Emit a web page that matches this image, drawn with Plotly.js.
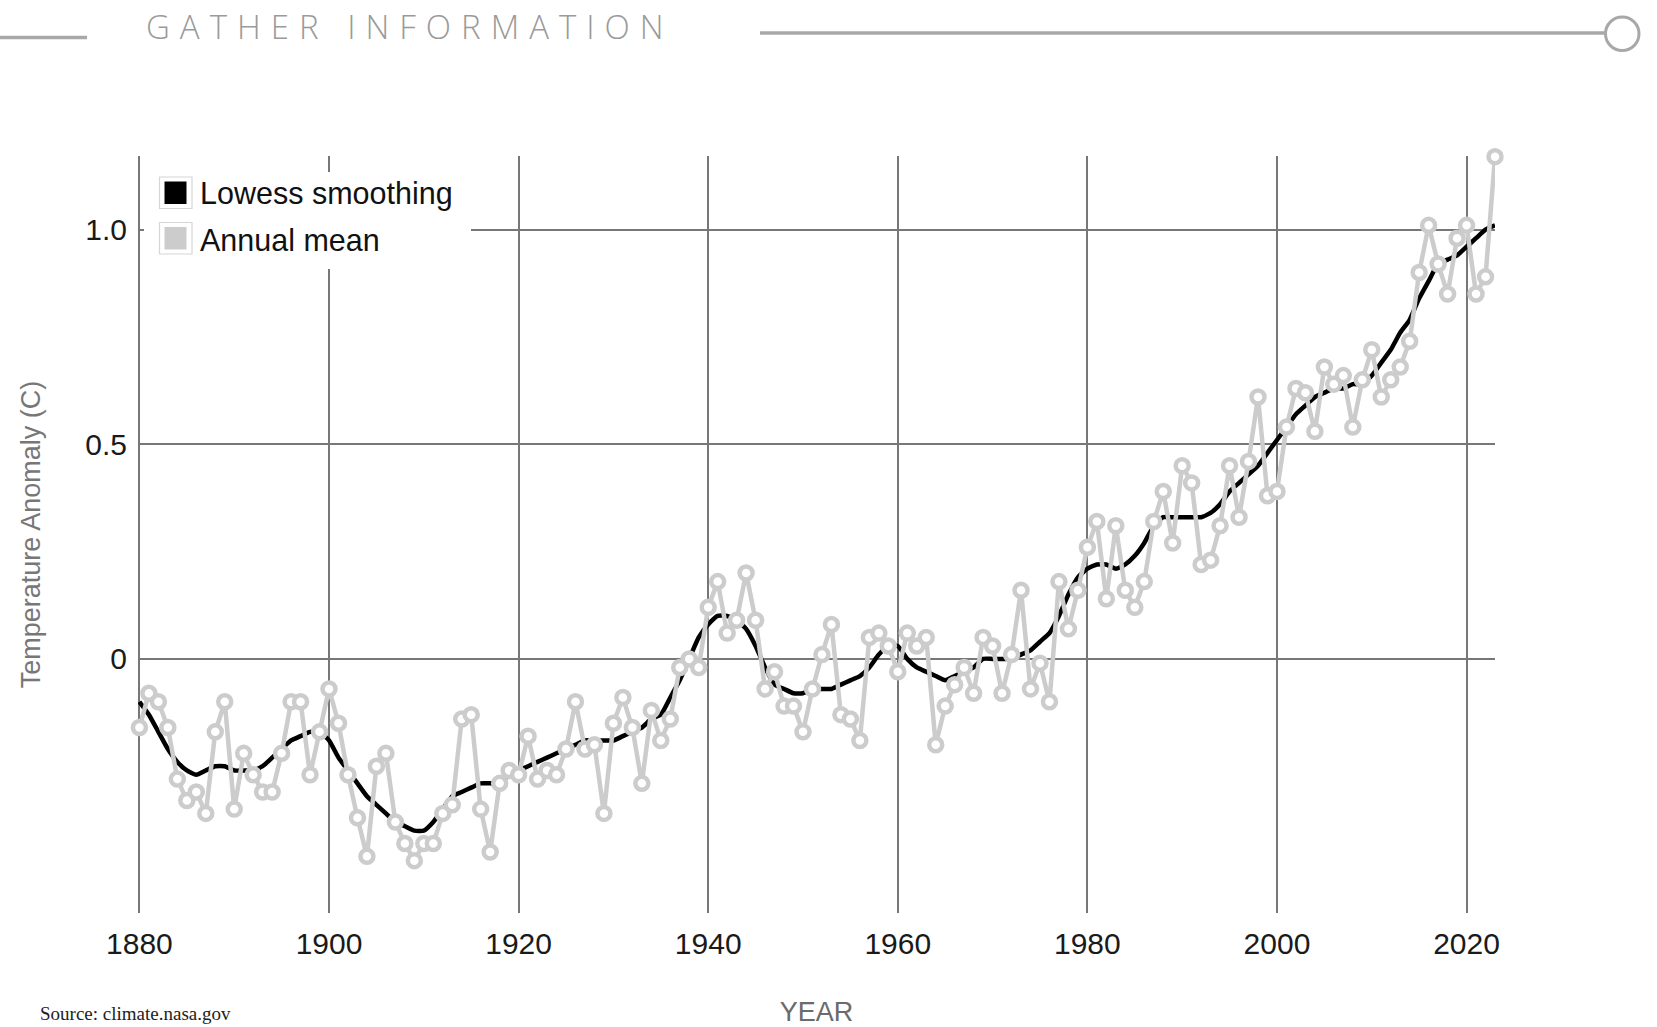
<!DOCTYPE html>
<html>
<head>
<meta charset="utf-8">
<script src="https://cdn.plot.ly/plotly-3.0.1.min.js"></script>
<style>
html, body { margin: 0; padding: 0; background: #ffffff; overflow: hidden; }
#chart { width: 1657px; height: 1027px; }
.annotation[data-index="0"] .annotation-text { letter-spacing: 10px; }
</style>
</head>
<body>
<div id="chart"></div>
<script>
// ---------------- DATA ----------------
const years = [
  1880,1881,1882,1883,1884,1885,1886,1887,1888,1889,
  1890,1891,1892,1893,1894,1895,1896,1897,1898,1899,
  1900,1901,1902,1903,1904,1905,1906,1907,1908,1909,
  1910,1911,1912,1913,1914,1915,1916,1917,1918,1919,
  1920,1921,1922,1923,1924,1925,1926,1927,1928,1929,
  1930,1931,1932,1933,1934,1935,1936,1937,1938,1939,
  1940,1941,1942,1943,1944,1945,1946,1947,1948,1949,
  1950,1951,1952,1953,1954,1955,1956,1957,1958,1959,
  1960,1961,1962,1963,1964,1965,1966,1967,1968,1969,
  1970,1971,1972,1973,1974,1975,1976,1977,1978,1979,
  1980,1981,1982,1983,1984,1985,1986,1987,1988,1989,
  1990,1991,1992,1993,1994,1995,1996,1997,1998,1999,
  2000,2001,2002,2003,2004,2005,2006,2007,2008,2009,
  2010,2011,2012,2013,2014,2015,2016,2017,2018,2019,
  2020,2021,2022,2023
];

const annualMean = [
  -0.16,-0.08,-0.10,-0.16,-0.28,-0.33,-0.31,-0.36,-0.17,-0.10,
  -0.35,-0.22,-0.27,-0.31,-0.31,-0.22,-0.10,-0.10,-0.27,-0.17,
  -0.07,-0.15,-0.27,-0.37,-0.46,-0.25,-0.22,-0.38,-0.43,-0.47,
  -0.43,-0.43,-0.36,-0.34,-0.14,-0.13,-0.35,-0.45,-0.29,-0.26,
  -0.27,-0.18,-0.28,-0.26,-0.27,-0.21,-0.10,-0.21,-0.20,-0.36,
  -0.15,-0.09,-0.16,-0.29,-0.12,-0.19,-0.14,-0.02,0.00,-0.02,
  0.12,0.18,0.06,0.09,0.20,0.09,-0.07,-0.03,-0.11,-0.11,
  -0.17,-0.07,0.01,0.08,-0.13,-0.14,-0.19,0.05,0.06,0.03,
  -0.03,0.06,0.03,0.05,-0.20,-0.11,-0.06,-0.02,-0.08,0.05,
  0.03,-0.08,0.01,0.16,-0.07,-0.01,-0.10,0.18,0.07,0.16,
  0.26,0.32,0.14,0.31,0.16,0.12,0.18,0.32,0.39,0.27,
  0.45,0.41,0.22,0.23,0.31,0.45,0.33,0.46,0.61,0.38,
  0.39,0.54,0.63,0.62,0.53,0.68,0.64,0.66,0.54,0.65,
  0.72,0.61,0.65,0.68,0.74,0.90,1.01,0.92,0.85,0.98,
  1.01,0.85,0.89,1.17
];

const lowess = [
  -0.10,-0.13,-0.17,-0.21,-0.24,-0.26,-0.27,-0.26,-0.25,-0.25,
  -0.26,-0.26,-0.26,-0.25,-0.23,-0.21,-0.19,-0.18,-0.17,-0.17,
  -0.19,-0.23,-0.26,-0.29,-0.32,-0.34,-0.36,-0.38,-0.39,-0.40,
  -0.40,-0.38,-0.35,-0.32,-0.31,-0.30,-0.29,-0.29,-0.29,-0.27,
  -0.26,-0.25,-0.24,-0.23,-0.22,-0.21,-0.20,-0.19,-0.19,-0.19,
  -0.19,-0.18,-0.17,-0.16,-0.14,-0.13,-0.09,-0.05,0.00,0.05,
  0.08,0.10,0.10,0.09,0.07,0.03,-0.02,-0.06,-0.07,-0.08,
  -0.08,-0.07,-0.07,-0.07,-0.06,-0.05,-0.04,-0.02,0.01,0.03,
  0.03,0.00,-0.02,-0.03,-0.04,-0.05,-0.04,-0.03,-0.02,0.00,
  0.00,0.00,0.00,0.01,0.02,0.04,0.06,0.10,0.15,0.19,
  0.21,0.22,0.22,0.21,0.22,0.24,0.27,0.31,0.33,0.33,
  0.33,0.33,0.33,0.34,0.36,0.39,0.41,0.43,0.45,0.48,
  0.51,0.54,0.57,0.59,0.61,0.62,0.63,0.63,0.64,0.64,
  0.66,0.69,0.72,0.76,0.79,0.84,0.88,0.92,0.93,0.94,
  0.96,0.98,1.00,1.01
];

const xTickVals = [1880, 1900, 1920, 1940, 1960, 1980, 2000, 2020];
const yTickVals = [0, 0.5, 1.0];
const yTickText = ['0', '0.5', '1.0'];
const seriesNames = ['Lowess smoothing', 'Annual mean'];
const headerText = 'GATHER INFORMATION';
const sourceText = 'Source: climate.nasa.gov';
const xTitleText = 'YEAR';
const yTitleText = 'Temperature Anomaly (C)';

// ---------------- LAYOUT HELPERS ----------------
const W = 1657, H = 1027;
const M = { l: 138, r: 162, t: 156, b: 114 };
const PW = W - M.l - M.r, PH = H - M.t - M.b;
const px = x => (x - M.l) / PW;
const py = y => (M.t + PH - y) / PH;

const GRID = '#777777';
const DECO = '#a8a8a8';
const SANS = 'Liberation Sans, Arial, Helvetica, sans-serif';

function rect(x0, y0, x1, y1, fill, lineColor, lineWidth, layer) {
  return {
    type: 'rect', xref: 'paper', yref: 'paper', layer: layer || 'above',
    x0: px(x0), x1: px(x1), y0: py(y1), y1: py(y0),
    fillcolor: fill, line: { color: lineColor || fill, width: lineWidth || 0 }
  };
}
function hline(x0, x1, y, color, width) {
  return {
    type: 'line', xref: 'paper', yref: 'paper', layer: 'above',
    x0: px(x0), x1: px(x1), y0: py(y), y1: py(y),
    line: { color: color, width: width }
  };
}

const shapes = [
  // header decoration
  hline(0, 87, 37.5, DECO, 3.3),
  hline(760, 1605, 33, DECO, 3.3),
  { type: 'circle', xref: 'paper', yref: 'paper', layer: 'above',
    x0: px(1605.5), x1: px(1639), y0: py(50.5), y1: py(17),
    fillcolor: '#ffffff', line: { color: DECO, width: 3 } },
  // legend box
  rect(144, 172, 471, 269, '#ffffff', '#ffffff', 0, 'above'),
  rect(159.5, 177, 192, 208.5, '#ffffff', '#d6d6d6', 1.2, 'above'),
  rect(164.5, 181.5, 186.5, 204, '#000000', '#000000', 0, 'above'),
  rect(159.5, 222.5, 192, 254, '#ffffff', '#d6d6d6', 1.2, 'above'),
  rect(164.5, 227, 186.5, 249.5, '#cccccc', '#cccccc', 0, 'above')
];

const annotations = [
  { text: headerText, xref: 'paper', yref: 'paper', x: px(144), y: py(27),
    xanchor: 'left', yanchor: 'middle', align: 'left', showarrow: false,
    font: { family: 'Open Sans, Lato, sans-serif', size: 33, color: '#9a9a9a', weight: 300 } },
  { text: seriesNames[0], xref: 'paper', yref: 'paper', x: px(198), y: py(193.5),
    xanchor: 'left', yanchor: 'middle', align: 'left', showarrow: false,
    font: { family: SANS, size: 30.5, color: '#111111' } },
  { text: seriesNames[1], xref: 'paper', yref: 'paper', x: px(198), y: py(240),
    xanchor: 'left', yanchor: 'middle', align: 'left', showarrow: false,
    font: { family: SANS, size: 30.5, color: '#111111' } },
  { text: sourceText, xref: 'paper', yref: 'paper', x: px(38), y: py(1013),
    xanchor: 'left', yanchor: 'middle', align: 'left', showarrow: false,
    font: { family: 'Liberation Serif, Times New Roman, serif', size: 19, color: '#222222' } }
];

const traces = [
  {
    type: 'scatter', mode: 'lines', name: seriesNames[0],
    x: years, y: lowess,
    line: { color: '#000000', width: 4.5, shape: 'spline', smoothing: 0.5 },
    cliponaxis: false, hoverinfo: 'skip', showlegend: false
  },
  {
    type: 'scatter', mode: 'lines+markers', name: seriesNames[1],
    x: years, y: annualMean,
    line: { color: '#cccccc', width: 4.5 },
    marker: { symbol: 'circle', size: 13, color: '#ffffff', line: { color: '#cccccc', width: 4.5 } },
    cliponaxis: false, hoverinfo: 'skip', showlegend: false
  }
];

const layout = {
  width: W, height: H,
  margin: M,
  paper_bgcolor: '#ffffff', plot_bgcolor: '#ffffff',
  showlegend: false,
  font: { family: SANS, color: '#1a1a1a' },
  xaxis: {
    range: [1879.85, 2023], tickmode: 'array', tickvals: xTickVals,
    showgrid: true, gridcolor: GRID, gridwidth: 2,
    zeroline: false, showline: false, ticks: '',
    tickfont: { family: SANS, size: 30, color: '#1a1a1a' },
    ticklabelstandoff: 10,
    title: { text: xTitleText, font: { family: SANS, size: 27, color: '#6b6b6b' }, standoff: 47 },
    automargin: false, fixedrange: true
  },
  yaxis: {
    range: [-0.592, 1.1715], tickmode: 'array', tickvals: yTickVals, ticktext: yTickText,
    showgrid: true, gridcolor: GRID, gridwidth: 2,
    zeroline: false, showline: false, ticks: '',
    tickfont: { family: SANS, size: 30, color: '#1a1a1a' },
    ticklabelstandoff: 10,
    title: { text: yTitleText, font: { family: SANS, size: 27, color: '#777777' }, standoff: 36 },
    automargin: false, fixedrange: true
  },
  shapes: shapes,
  annotations: annotations
};

Plotly.newPlot('chart', traces, layout, { staticPlot: true, displayModeBar: false });
</script>
</body>
</html>
